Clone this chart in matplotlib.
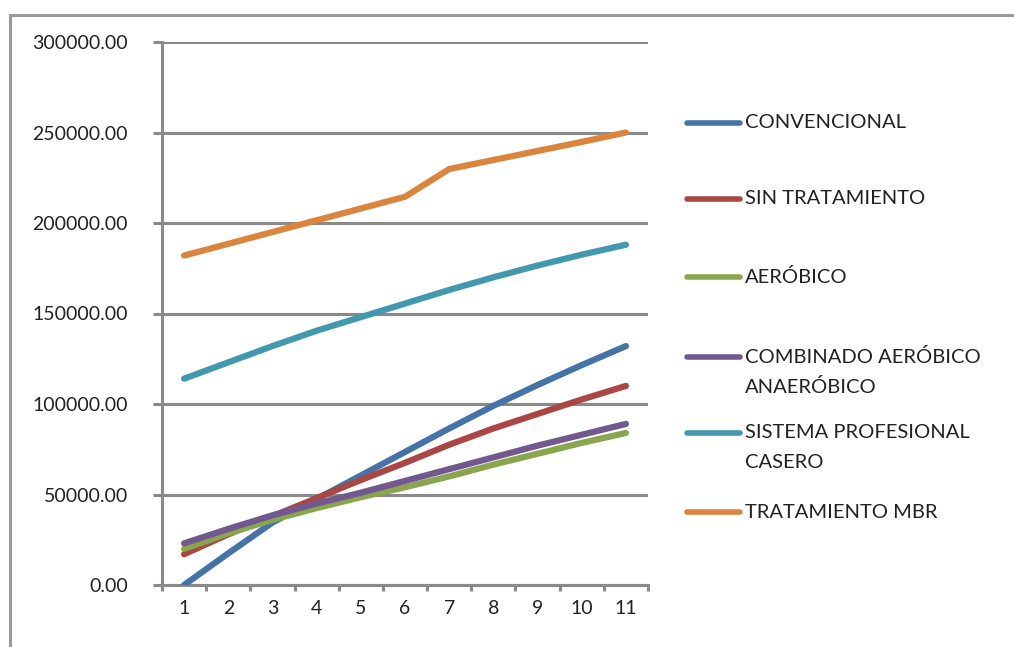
import matplotlib.pyplot as plt
from matplotlib.lines import Line2D

# Datos del grafico
anos = [1, 2, 3, 4, 5, 6, 7, 8, 9, 10, 11]
convencional = [0, 17500, 34500, 47500, 60500, 73500, 86500, 99000, 110500, 121500, 132000]
sin_tratamiento = [17000, 28000, 38000, 48000, 58000, 67500, 77500, 86500, 94500, 102500, 110000]
aerobico = [20000, 28500, 36000, 42500, 48500, 54000, 60000, 66500, 72500, 78500, 84000]
combinado = [23000, 31000, 38500, 45000, 51000, 57500, 64000, 70500, 77000, 83000, 89000]
profesional = [114000, 123000, 132000, 140500, 148000, 155500, 163000, 170000, 176500, 182500, 188000]
mbr = [182000, 188500, 195000, 201500, 208000, 214500, 229800, 234800, 239800, 244800, 250000]

series = [convencional, sin_tratamiento, aerobico, combinado, profesional, mbr]
etiquetas = ['CONVENCIONAL', 'SIN TRATAMIENTO', 'AERÓBICO',
             'COMBINADO AERÓBICO\nANAERÓBICO', 'SISTEMA PROFESIONAL\nCASERO', 'TRATAMIENTO MBR']
colores = ['#4572A7', '#AA4643', '#89A54E', '#71588F', '#4198AF', '#DB843D']

yticks = [0, 50000, 100000, 150000, 200000, 250000, 300000]

plt.rcParams['font.family'] = ['Lato', 'DejaVu Sans']

W, H = 1014, 647
fig = plt.figure(figsize=(W / 100, H / 100), dpi=100)
ax = fig.add_axes([162 / W, (H - 585) / H, (648 - 162) / W, (585 - 42) / H])

gris = '#8a8a8a'

# Lineas
for valores, color in zip(series, colores):
    ax.plot(anos, valores, color=color, lw=4.5, solid_capstyle='round', zorder=3)

ax.set_xlim(0.5, 11.5)
ax.set_ylim(0, 300000)

# Eje Y
ax.set_yticks(yticks)
ax.set_yticklabels([f'{v:.2f}' for v in yticks])
ax.yaxis.grid(True, color=gris, lw=2.2)
ax.tick_params(axis='y', length=6.5, width=2.2, color=gris, pad=18,
               labelsize=14, labelcolor='#222222')

# Eje X: etiquetas en el centro, marcas entre categorias
ax.set_xticks(anos)
ax.set_xticklabels([str(a) for a in anos])
ax.set_xticks([a + 0.5 for a in [0] + anos], minor=True)
ax.tick_params(axis='x', which='major', length=0, pad=11, labelsize=14, labelcolor='#222222')
ax.tick_params(axis='x', which='minor', length=4.5, width=2.2, color=gris)

for lado in ['top', 'right']:
    ax.spines[lado].set_visible(False)
for lado in ['left', 'bottom']:
    ax.spines[lado].set_color(gris)
    ax.spines[lado].set_linewidth(2.2)
ax.set_axisbelow(True)

# Leyenda manual (estilo Excel)
ley_y = [123, 199, 277, 357, 433, 512]
for etiqueta, color, yy in zip(etiquetas, colores, ley_y):
    fig.add_artist(Line2D([687 / W, 740 / W], [1 - yy / H] * 2, color=color,
                          lw=4, solid_capstyle='round'))
    for i, linea in enumerate(etiqueta.split('\n')):
        fig.text(745 / W, 1 - (yy + i * 30) / H, linea, fontsize=14.5,
                 color='#222222', va='center', ha='left')

# Borde del grafico
fig.add_artist(Line2D([10 / W, 1], [1 - 15 / H] * 2, color='#9a9a9a', lw=2.2))
fig.add_artist(Line2D([10 / W, 10 / W], [0, 1 - 15 / H], color='#9a9a9a', lw=2.2))

fig.savefig('out.png', dpi=100)
